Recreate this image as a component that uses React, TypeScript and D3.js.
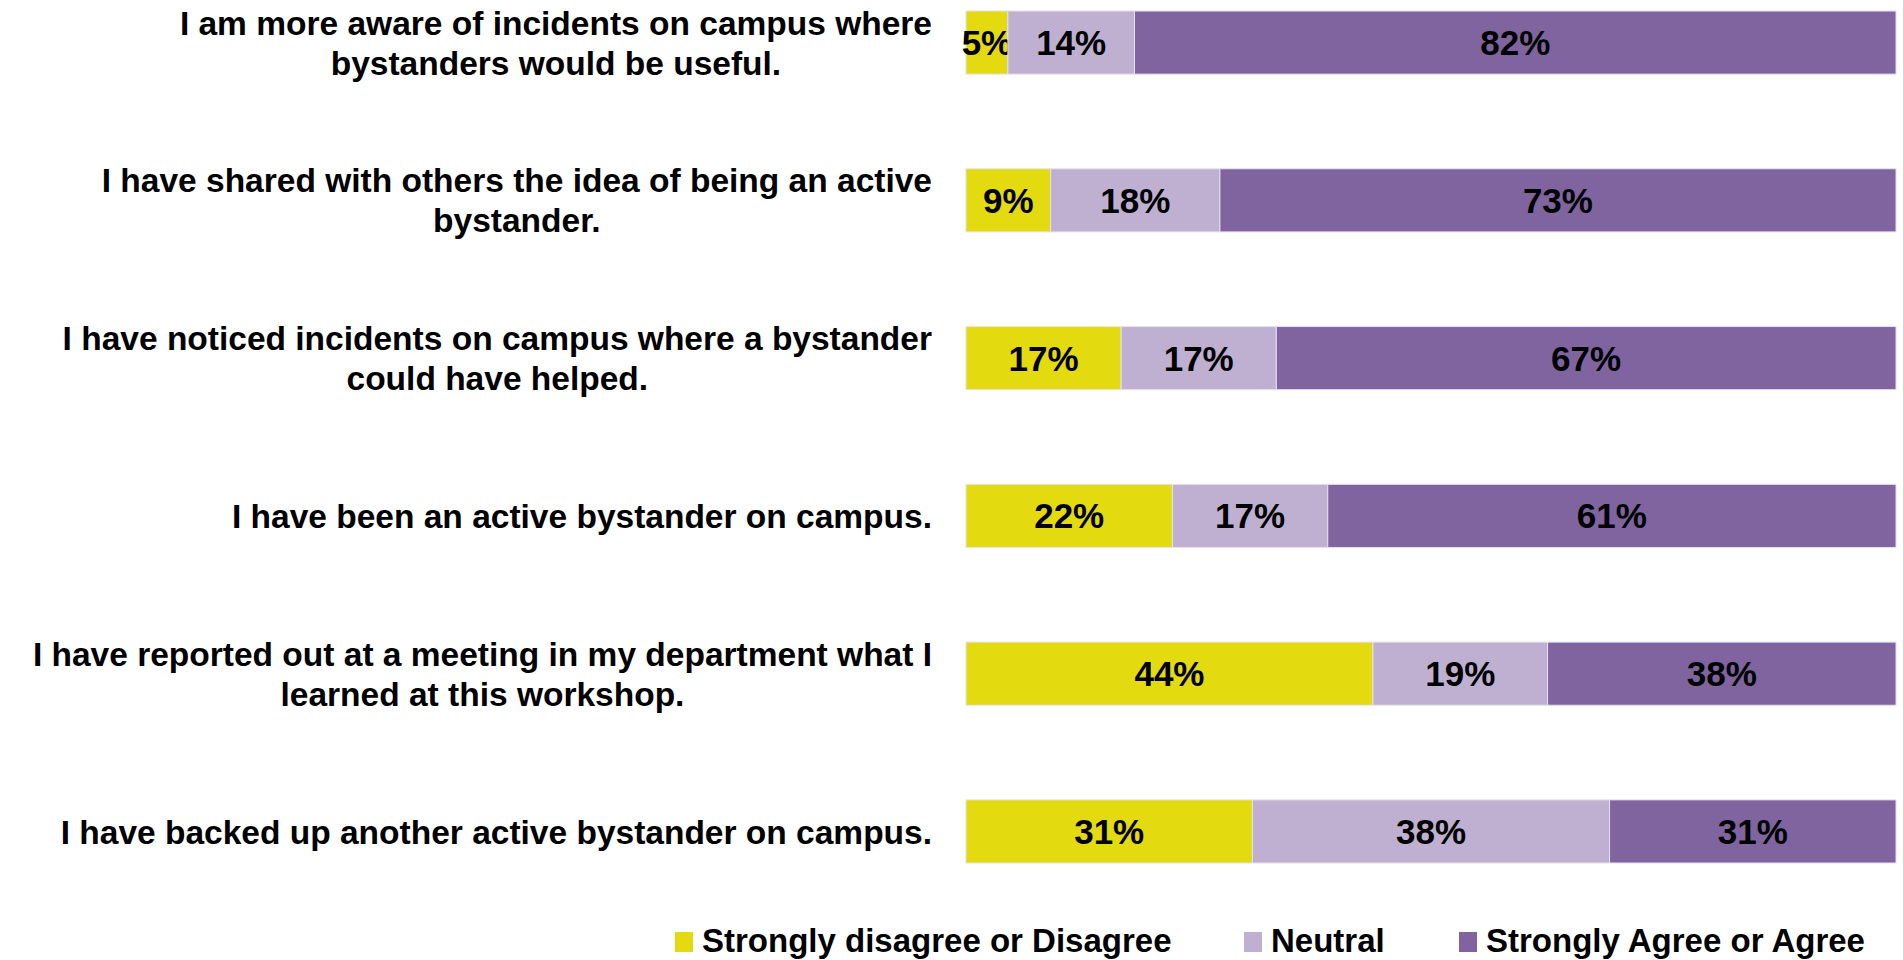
import React, { useEffect, useRef } from "react";
import * as d3 from "d3";

// survey statements, each line of a wrapped label separately
const statements = [
  ["I am more aware of incidents on campus where", "bystanders would be useful."],
  ["I have shared with others the idea of being an active", "bystander."],
  ["I have noticed incidents on campus where a bystander", "could have helped."],
  ["I have been an active bystander on campus."],
  ["I have reported out at a meeting in my department what I", "learned at this workshop."],
  ["I have backed up another active bystander on campus."],
];

const seriesNames = ["Strongly disagree or Disagree", "Neutral", "Strongly Agree or Agree"];

const disagree = [4.5, 9.1, 16.7, 22.2, 43.8, 30.8];
const neutral = [13.6, 18.2, 16.7, 16.7, 18.8, 38.4];
const agree = [81.8, 72.7, 66.7, 61.1, 37.5, 30.8];

const colors = ["#e3da10", "#bfb0d1", "#7f64a0"];

const W = 1903;
const H = 960;

function draw(element) {
  d3.select(element).selectAll("*").remove();

  const svg = d3
    .select(element)
    .append("svg")
    .attr("width", W)
    .attr("height", H)
    .style("display", "block")
    .style("background", "#fff");

  const rows = statements.map((s, i) => ({
    key: i,
    d: disagree[i],
    n: neutral[i],
    a: agree[i],
  }));

  const stack = d3.stack().keys(["d", "n", "a"]).offset(d3.stackOffsetExpand);
  const layers = stack(rows);

  const x = d3.scaleLinear().domain([0, 1]).range([966, 1896]);
  const y = d3
    .scaleBand()
    .domain(rows.map((r) => r.key))
    .range([11, 863])
    .paddingInner(0.6)
    .paddingOuter(0);

  const labelFont = "'Liberation Sans', Arial, sans-serif";

  // bars
  layers.forEach((layer, li) => {
    const g = svg.append("g");
    g.selectAll("rect")
      .data(layer)
      .join("rect")
      .attr("x", (d) => x(d[0]))
      .attr("y", (d) => y(d.data.key))
      .attr("width", (d) => x(d[1]) - x(d[0]))
      .attr("height", y.bandwidth())
      .attr("fill", colors[li])
      .attr("stroke", "#e6e1ee")
      .attr("stroke-width", 1);

    g.selectAll("text")
      .data(layer)
      .join("text")
      .attr("x", (d) => (x(d[0]) + x(d[1])) / 2)
      .attr("y", (d) => y(d.data.key) + y.bandwidth() / 2)
      .attr("dy", "0.36em")
      .attr("text-anchor", "middle")
      .style("font-family", labelFont)
      .style("font-weight", "bold")
      .style("font-size", "35px")
      .attr("fill", "#000")
      .text((d) => Math.round(d.data[layer.key]) + "%");
  });

  // category labels, right aligned block, lines centered within it
  const labelRight = 932;
  statements.forEach((lines, i) => {
    const cy = y(i) + y.bandwidth() / 2;
    const g = svg.append("g");
    const texts = lines.map((line, li) =>
      g
        .append("text")
        .attr("y", cy + (li - (lines.length - 1) / 2) * 40)
        .attr("dy", "0.36em")
        .attr("text-anchor", "middle")
        .style("font-family", labelFont)
        .style("font-weight", "bold")
        .style("font-size", "33.5px")
        .attr("fill", "#000")
        .text(line)
    );
    const widest = d3.max(texts, (t) => t.node().getComputedTextLength());
    texts.forEach((t) => t.attr("x", labelRight - widest / 2));
  });

  // legend
  const legendX = [675, 1244, 1459];
  const legend = svg.append("g");
  seriesNames.forEach((name, i) => {
    legend
      .append("rect")
      .attr("x", legendX[i])
      .attr("y", 932)
      .attr("width", 18)
      .attr("height", 20)
      .attr("fill", colors[i]);
    legend
      .append("text")
      .attr("x", legendX[i] + 27)
      .attr("y", 940)
      .attr("dy", "0.36em")
      .style("font-family", labelFont)
      .style("font-weight", "bold")
      .style("font-size", "33px")
      .attr("fill", "#000")
      .text(name);
  });
}

export default function App() {
  const ref = useRef(null);

  useEffect(() => {
    document.body.style.margin = "0";
    draw(ref.current);
  }, []);

  return <div ref={ref} />;
}
